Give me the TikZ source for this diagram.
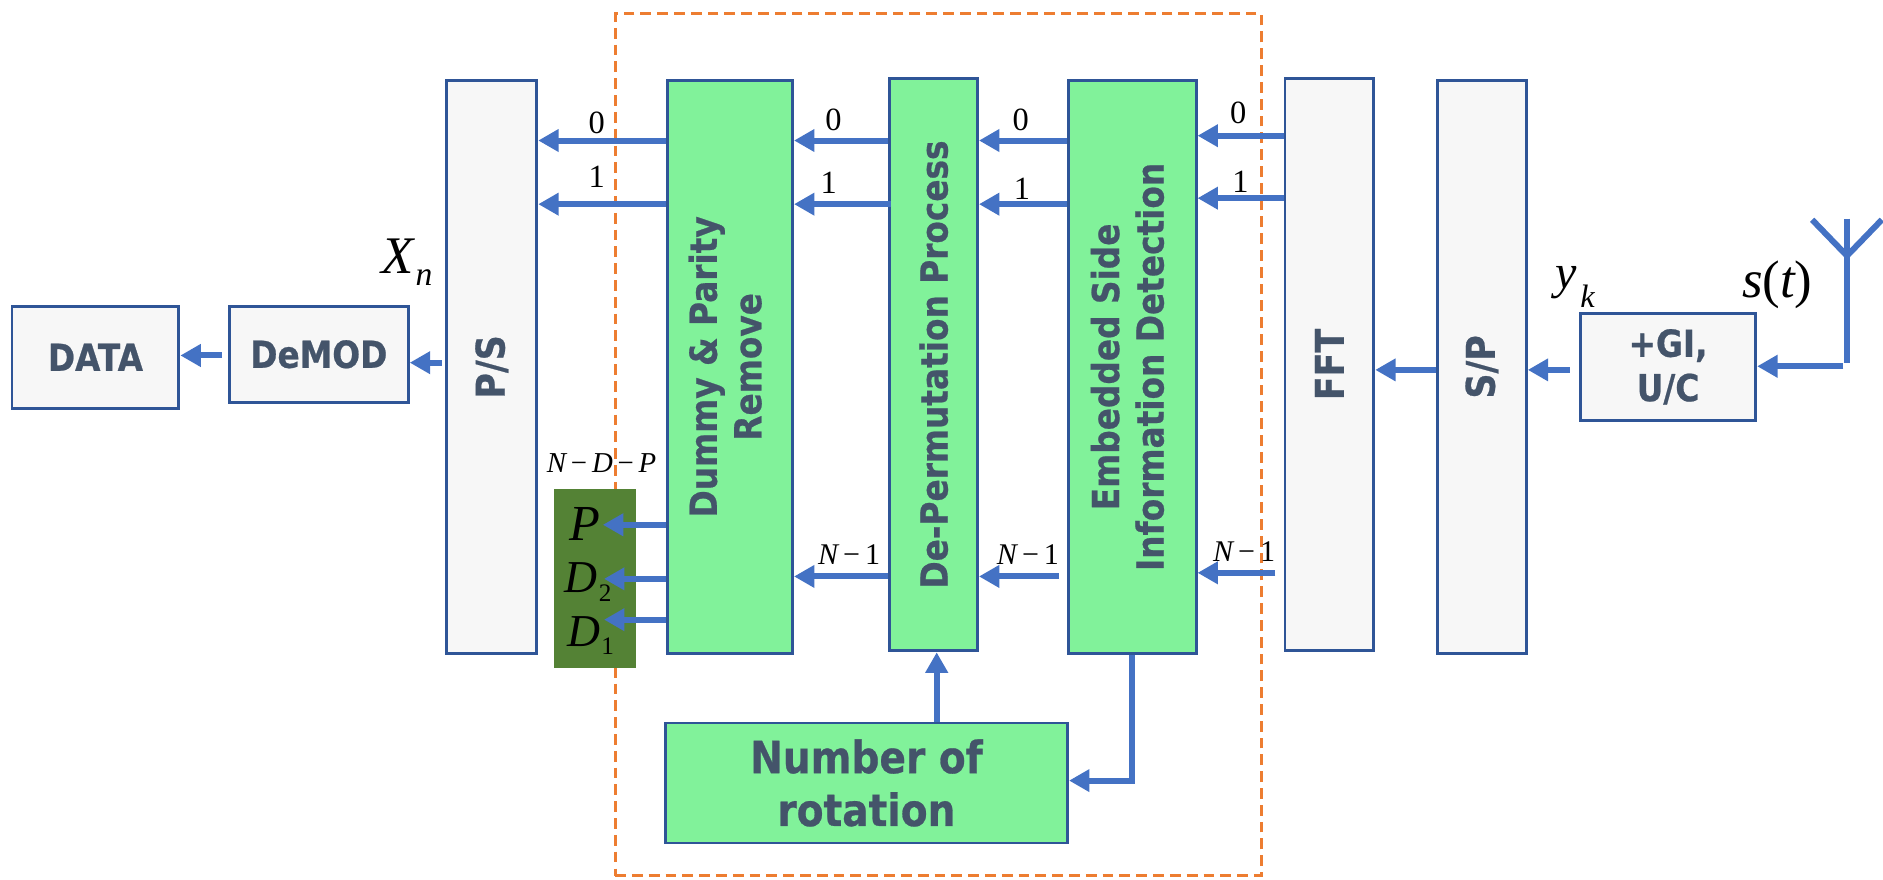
\documentclass[tikz,border=0pt]{standalone}
\usepackage{fontspec}
\setmainfont{DejaVu Sans}[BoldFeatures={FakeStretch=0.88,FakeBold=0.6}]
\newfontfamily\timesf{Liberation Serif}
\usetikzlibrary{arrows.meta}
\definecolor{boxline}{HTML}{2F5597}
\definecolor{boxfill}{HTML}{F7F7F7}
\definecolor{greenfill}{HTML}{81F29A}
\definecolor{darkgreen}{HTML}{548235}
\definecolor{arrowblue}{HTML}{4472C4}
\definecolor{dashorange}{HTML}{ED7D31}
\definecolor{txt}{HTML}{44546A}
\newcommand{\fsz}[1]{\fontsize{#1}{\the\numexpr#1*12/10\relax}\selectfont}
\newcommand{\itt}[1]{{\timesf\itshape #1}}
\tikzset{
  x=1pt,y=-1pt,
  block/.style={draw=boxline,line width=2.4pt,inner sep=0pt,text=txt,align=center,font=\bfseries\fsz{31}},
  graybox/.style={block,fill=boxfill},
  greenbox/.style={block,fill=greenfill},
  arr/.style={draw=arrowblue,line width=5pt,-{Triangle[length=17pt,width=18pt]},shorten >=0pt},
  plain/.style={draw=arrowblue,line width=5pt},
  lab/.style={inner sep=0pt,text=black,font=\timesf\fsz{27}},
  nlab/.style={inner sep=0pt,text=black,font=\timesf\fsz{25}},
  mathlab/.style={inner sep=0pt,text=black},
}
\begin{document}
\begin{tikzpicture}
\useasboundingbox (0,0) rectangle (1568,732);
\node[draw=dashorange,line width=2.4pt,dash pattern=on 9pt off 5pt,minimum width=538pt,minimum height=718pt,anchor=north west,inner sep=0pt] (frame) at (511,10) {};
\node[graybox,minimum width=139pt,minimum height=85pt] (data) at (79.5,297.5) {DATA};
\node[graybox,minimum width=149pt,minimum height=80pt] (demod) at (265.5,295) {DeMOD};
\node[graybox,minimum width=75pt,minimum height=477pt] (ps) at (409.5,305.5) {\rotatebox{90}{\fsz{33}P/S}};
\node[fill=darkgreen,minimum width=69pt,minimum height=149pt,inner sep=0pt] (dbox) at (495.5,481.5) {};
\node[greenbox,minimum width=104pt,minimum height=477pt] (dummy) at (608,305.5) {\rotatebox{90}{\begin{tabular}{c}Dummy \& Parity\\Remove\end{tabular}}};
\node[greenbox,minimum width=73pt,minimum height=477pt] (perm) at (777.5,303.5) {\rotatebox{90}{De-Permutation Process}};
\node[greenbox,minimum width=106pt,minimum height=477pt] (embed) at (943,305.5) {\rotatebox{90}{\begin{tabular}{c}Embedded Side\\Information Detection\end{tabular}}};
\node[graybox,minimum width=74pt,minimum height=477pt] (fft) at (1107,303.5) {\rotatebox{90}{\fsz{33}FFT}};
\node[graybox,minimum width=74pt,minimum height=477pt] (sp) at (1234,305.5) {\rotatebox{90}{\fsz{33}S/P}};
\node[graybox,minimum width=146pt,minimum height=89pt] (gi) at (1389,305.5) {+GI,\\U/C};
\node[greenbox,minimum width=335pt,minimum height=100pt,font=\bfseries\fsz{37}] (rot) at (721.5,652) {Number of\\rotation};
% free ends
\coordinate (demodin) at (368,302);
\coordinate (datain) at (185,296);
\coordinate (perm1) at (742,170);
\coordinate (embn) at (882,480);
\coordinate (fftn) at (1062,477);
\coordinate (spin) at (1307,308);
\coordinate (ant) at (1535,305);
\coordinate (antb) at (1538,302);
\coordinate (anttop) at (1538,182);
\coordinate (antfork) at (1538,213);
\coordinate (antl) at (1509,183);
\coordinate (antr) at (1567,183);
\coordinate (pt) at (502,437);
\coordinate (dt) at (503,482);
\coordinate (dot) at (503,516);
% arrows
\draw[arr] (demodin) -- (demod.east |- demodin);
\draw[arr] (datain) -- (data.east |- datain);
\foreach \yy in {117,170}{
  \draw[arr] (dummy.west |- 0,\yy) -- (ps.east |- 0,\yy);
  \draw[arr] (embed.west |- 0,\yy) -- (perm.east |- 0,\yy);
}
\draw[arr] (perm.west |- 0,117) -- (dummy.east |- 0,117);
\draw[arr] (perm1) -- (dummy.east |- perm1);
\draw[arr] (fft.west |- 0,113) -- (embed.east |- 0,113);
\draw[arr] (fft.west |- 0,165) -- (embed.east |- 0,165);
\draw[arr] (perm.west |- 0,480) -- (dummy.east |- 0,480);
\draw[arr] (embn) -- (perm.east |- embn);
\draw[arr] (fftn) -- (embed.east |- fftn);
\draw[arr] (dummy.west |- pt) -- (pt);
\draw[arr] (dummy.west |- dt) -- (dt);
\draw[arr] (dummy.west |- dot) -- (dot);
\draw[arr] (rot.north -| 780,0) -- (perm.south -| 780,0);
\draw[arr,line join=miter] (embed.south) |- (rot.east |- 0,650);
\draw[arr] (sp.west |- 0,308) -- (fft.east |- 0,308);
\draw[arr] (spin) -- (sp.east |- spin);
\draw[arr] (ant) -- (gi.east |- ant);
\draw[plain] (anttop) -- (antb);
\draw[plain] (antl) -- (antfork) -- (antr);
% labels
\node[lab] (l0a) at (497,102) {0};
\node[lab] (l1a) at (497,147) {1};
\node[lab] (l0b) at (694,100) {0};
\node[lab] (l1b) at (690,152) {1};
\node[lab] (l0c) at (850,100) {0};
\node[lab] (l1c) at (851,157) {1};
\node[lab] (l0d) at (1031,94) {0};
\node[lab] (l1d) at (1033,151) {1};
\node[nlab] (n1) at (707,462) {\itt{N}\,−\,1};
\node[nlab] (n2) at (856,462) {\itt{N}\,−\,1};
\node[nlab] (n3) at (1036,459) {\itt{N}\,−\,1};
\node[nlab,font=\timesf\fsz{24}] (ndp) at (501,386) {\itt{N}\,−\,\itt{D}\,−\,\itt{P}};
\node[mathlab,font=\timesf\fsz{44}] (xn) at (331,213) {\itt{X}};
\node[mathlab,font=\timesf\fsz{28}] (xsub) at (353,231) {\itt{n}};
\node[mathlab,font=\timesf\fsz{42}] (p) at (487,436) {\itt{P}};
\node[mathlab,font=\timesf\fsz{38}] (d2) at (484,481) {\itt{D}};
\node[mathlab,font=\timesf\fsz{21}] (d2s) at (504,494) {2};
\node[mathlab,font=\timesf\fsz{38}] (d1) at (486,526) {\itt{D}};
\node[mathlab,font=\timesf\fsz{21}] (d1s) at (506,538) {1};
\node[mathlab,font=\timesf\fsz{40}] (yk) at (1304,235) {\itt{y}};
\node[mathlab,font=\timesf\fsz{27}] (ks) at (1322,247) {\itt{k}};
\node[mathlab,font=\timesf\fsz{44}] (st) at (1480,237) {\itt{s}(\itt{t})};
\end{tikzpicture}
\end{document}
